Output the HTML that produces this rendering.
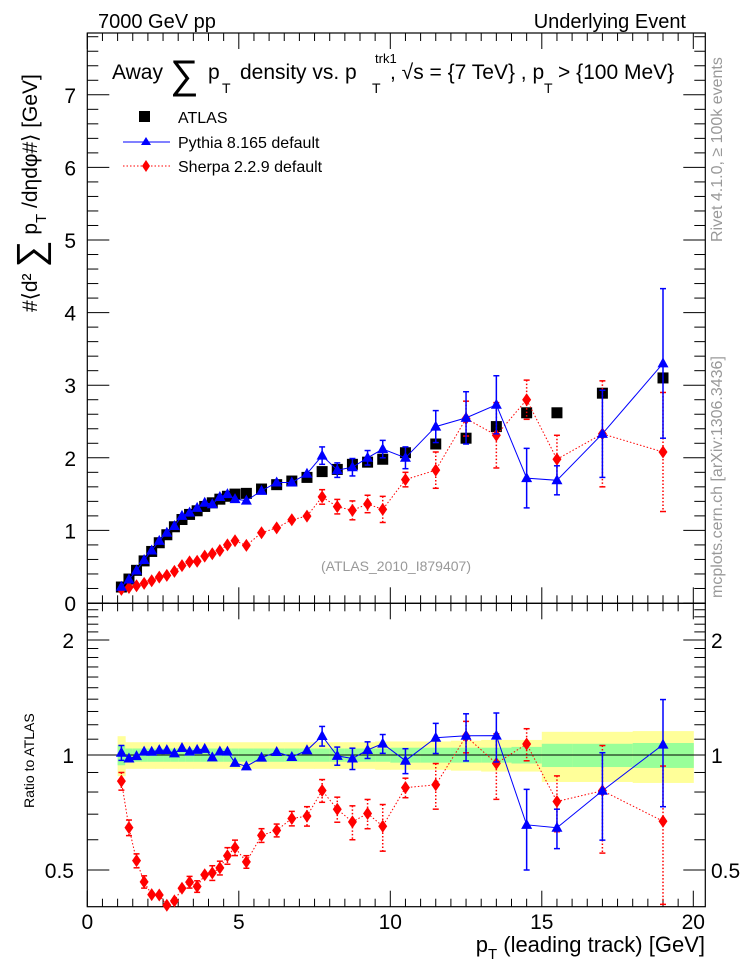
<!DOCTYPE html>
<html><head><meta charset="utf-8"><style>
html,body{margin:0;padding:0;background:#fff;}
svg{display:block;font-family:"Liberation Sans",sans-serif;}
</style></head><body>
<svg id="chart" width="746" height="972" viewBox="0 0 746 972" xmlns="http://www.w3.org/2000/svg">
<rect x="0" y="0" width="746" height="972" fill="#fff"/>
<g id="bands"></g>
<g id="axes"></g>
<g id="series"></g>
<text x="98" y="28" font-size="20">7000 GeV pp</text>
<text x="686" y="28" font-size="20" text-anchor="end">Underlying Event</text>
<g font-size="21">
<text x="112" y="79">Away</text>
<text x="170" y="88" font-size="40">∑</text>
<text x="208" y="79">p</text><text x="222" y="93" font-size="14">T</text>
<text x="240" y="79">density vs. p</text><text x="372" y="93" font-size="14">T</text><text x="375" y="63" font-size="13">trk1</text>
<text x="390" y="79">, √s = {7 TeV} , p</text><text x="544" y="93" font-size="14">T</text><text x="558" y="79">&gt; {100 MeV}</text>
</g>
<g font-size="16">
<rect x="139" y="111" width="11" height="11" fill="#000"/>
<text x="178" y="123">ATLAS</text>
<line x1="123" y1="142" x2="170" y2="142" stroke="#00f" stroke-width="1"/>
<polygon points="146,137 141,145 151,145" fill="#00f"/>
<text x="178" y="148">Pythia 8.165 default</text>
<line x1="123" y1="166" x2="170" y2="166" stroke="#f00" stroke-width="1" stroke-dasharray="1.5,2"/>
<polygon points="146,160 150,166 146,172 142,166" fill="#f00"/>
<text x="178" y="172">Sherpa 2.2.9 default</text>
</g>
<text x="396" y="571" font-size="14" fill="#999" text-anchor="middle">(ATLAS_2010_I879407)</text>
<text transform="translate(37,312) rotate(-90)" font-size="21">#⟨d² <tspan font-size="38" dy="6">∑</tspan><tspan dy="-6"> p</tspan><tspan font-size="15" dy="9">T</tspan><tspan dy="-9"> /dηdφ#⟩ [GeV]</tspan></text>
<text transform="translate(34,808) rotate(-90)" font-size="14">Ratio to ATLAS</text>
<text x="705" y="952" font-size="22" text-anchor="end">p<tspan font-size="15" dy="7">T</tspan><tspan dy="-7"> (leading track) [GeV]</tspan></text>
<text transform="translate(722,242) rotate(-90)" font-size="16" fill="#999">Rivet 4.1.0, ≥ 100k events</text>
<text transform="translate(722,598) rotate(-90)" font-size="16" fill="#999">mcplots.cern.ch [arXiv:1306.3436]</text>
</svg>
<script>
const xs = [1.125,1.375,1.625,1.875,2.125,2.375,2.625,2.875,3.125,3.375,3.625,3.875,4.125,4.375,4.625,4.875,5.25,5.75,6.25,6.75,7.25,7.75,8.25,8.75,9.25,9.75,10.5,11.5,12.5,13.5,14.5,15.5,17,19];
const binLo = [1,1.25,1.5,1.75,2,2.25,2.5,2.75,3,3.25,3.5,3.75,4,4.25,4.5,4.75,5,5.5,6,6.5,7,7.5,8,8.5,9,9.5,10,11,12,13,14,15,16,18];
const binHi = [1.25,1.5,1.75,2,2.25,2.5,2.75,3,3.25,3.5,3.75,4,4.25,4.5,4.75,5,5.5,6,6.5,7,7.5,8,8.5,9,9.5,10,11,12,13,14,15,16,18,20];
const atlas = [0.22,0.33,0.45,0.58,0.71,0.83,0.94,1.05,1.15,1.22,1.27,1.33,1.38,1.43,1.47,1.50,1.51,1.57,1.63,1.68,1.73,1.81,1.84,1.91,1.94,1.98,2.07,2.19,2.27,2.43,2.62,2.62,2.89,3.10];
const bandYellow = [0.12,0.08,0.08,0.08,0.08,0.08,0.08,0.08,0.08,0.08,0.08,0.08,0.08,0.08,0.08,0.08,0.08,0.08,0.08,0.08,0.08,0.08,0.08,0.08,0.08,0.085,0.085,0.085,0.09,0.095,0.095,0.15,0.15,0.155];
const bandGreen = [0.06,0.04,0.04,0.04,0.04,0.04,0.04,0.04,0.04,0.04,0.04,0.04,0.04,0.04,0.04,0.04,0.04,0.04,0.04,0.04,0.04,0.04,0.04,0.04,0.04,0.04,0.045,0.045,0.045,0.045,0.05,0.07,0.07,0.075];
const pythia = [0.223,0.323,0.447,0.592,0.724,0.855,0.968,1.06,1.20,1.245,1.31,1.38,1.36,1.46,1.50,1.43,1.41,1.545,1.66,1.66,1.78,2.03,1.83,1.87,2.00,2.12,2.00,2.43,2.55,2.73,1.72,1.69,2.33,3.30];
const pythiaErr = [0.01,0.01,0.01,0.01,0.01,0.01,0.01,0.01,0.01,0.01,0.01,0.01,0.01,0.02,0.02,0.02,0.02,0.03,0.03,0.04,0.05,0.12,0.1,0.12,0.1,0.12,0.15,0.22,0.36,0.4,0.41,0.2,0.6,1.03];
const sherpa = [0.188,0.213,0.238,0.270,0.306,0.357,0.380,0.436,0.515,0.567,0.575,0.646,0.678,0.724,0.801,0.858,0.793,0.967,1.035,1.146,1.197,1.461,1.327,1.276,1.364,1.289,1.70,1.83,2.54,2.31,2.80,1.98,2.33,2.08];
const sherpaErr = [0.01,0.01,0.01,0.01,0.01,0.01,0.01,0.01,0.01,0.02,0.02,0.02,0.03,0.03,0.04,0.04,0.03,0.04,0.04,0.05,0.07,0.1,0.1,0.13,0.12,0.18,0.1,0.25,0.24,0.45,0.27,0.33,0.73,0.82];
const yTicks = ["0","1","2","3","4","5","6","7"];
const xTickLabels = ["0","5","10","15","20"];
const ratioTickLabels = ["0.5","1","2"];

const NS="http://www.w3.org/2000/svg";
const L=87.3,R=705.3,T=33,MB=603.3,RB=906.7;
const X=v=>87.3+v*30.3;
const Y=v=>603-v*72.6;
const RY=r=>755-Math.log2(r)*115;
function mk(tag,parent,attrs){const e=document.createElementNS(NS,tag);for(const k in attrs)e.setAttribute(k,attrs[k]);parent.appendChild(e);return e;}
const gA=document.getElementById('axes'),gS=document.getElementById('series'),gB=document.getElementById('bands');

for(let i=0;i<binLo.length;i++){
  const y1=mk('rect',gB,{x:X(binLo[i]),y:RY(1+bandYellow[i]),width:X(binHi[i])-X(binLo[i])+0.5,height:RY(1-bandYellow[i])-RY(1+bandYellow[i]),fill:'#ffff99'});
  
  
  const g1=mk('rect',gB,{x:X(binLo[i]),y:RY(1+bandGreen[i]),width:X(binHi[i])-X(binLo[i])+0.5,height:RY(1-bandGreen[i])-RY(1+bandGreen[i]),fill:'#99ff99'});
  
  
}
const one=mk('line',gB,{x1:L,x2:R,y1:RY(1),y2:RY(1),stroke:'#000','stroke-width':1});



for(const [y0,y1,nm] of [[T,MB,'main-frame'],[MB,RB,'ratio-frame']]){
  const f=mk('rect',gA,{x:L,y:y0,width:R-L,height:y1-y0,fill:'none',stroke:'#000','stroke-width':1.2});
  
  
}
for(let v=0;v<=20.3;v+=0.5){
  const maj=Math.abs(v%5)<1e-6, len=maj?16:8, x=X(v);
  for(const [yb,yt] of [[MB,T],[RB,MB]]){
    mk('line',gA,{x1:x,x2:x,y1:yb,y2:yb-len,stroke:'#000'});
    mk('line',gA,{x1:x,x2:x,y1:yt,y2:yt+len,stroke:'#000'});
  }
}
xTickLabels.forEach(s=>{const t=mk('text',gA,{x:X(+s),y:929,'font-size':21,'text-anchor':'middle'});t.textContent=s;

});
for(let k=0;k<=39;k++){const v=k*0.2;const y=Y(v);if(y<T)break;const maj=k%5==0,len=maj?22:11;
 mk('line',gA,{x1:L,x2:L+len,y1:y,y2:y,stroke:'#000'});mk('line',gA,{x1:R,x2:R-len,y1:y,y2:y,stroke:'#000'});}
yTicks.forEach(s=>{const t=mk('text',gA,{x:76,y:Y(+s)+8,'font-size':21,'text-anchor':'end'});t.textContent=s;

});
const rmin=[0.4,0.6,0.7,0.8,0.9,1.1,1.2,1.3,1.4,1.5,1.6,1.7,1.8,1.9,2.1,2.2,2.3,2.4,2.5];
rmin.forEach(r=>{const y=RY(r);if(y<MB||y>RB)return;mk('line',gA,{x1:L,x2:L+11,y1:y,y2:y,stroke:'#000'});mk('line',gA,{x1:R,x2:R-11,y1:y,y2:y,stroke:'#000'});});
ratioTickLabels.forEach(s=>{const y=RY(+s);mk('line',gA,{x1:L,x2:L+22,y1:y,y2:y,stroke:'#000'});mk('line',gA,{x1:R,x2:R-22,y1:y,y2:y,stroke:'#000'});
 const t=mk('text',gA,{x:74,y:y+8,'font-size':21,'text-anchor':'end'});t.textContent=s;
 
 
 const t2=mk('text',gA,{x:711,y:y+8,'font-size':21});t2.textContent=s;
 
 });

function clipY(y,top,bot){return Math.max(top,Math.min(bot,y));}
function drawSeries(vals,errs,color,dash,shape,name){
  const gm=mk('g',gS,{}),gr=mk('g',gS,{});
  
  
  
  
  const pm=[],pr=[];
  for(let i=0;i<xs.length;i++){
    const x=X(xs[i]);
    const ym=Y(vals[i]),r=vals[i]/atlas[i],yr=RY(r);
    pm.push(x+','+ym);pr.push(x+','+yr);
    const eh=Y(vals[i]-errs[i]),el=Y(vals[i]+errs[i]);
    const rh=RY(Math.max(0.05,(vals[i]-errs[i])/atlas[i])),rl=RY((vals[i]+errs[i])/atlas[i]);
    for(const [g,a,b] of [[gm,el,eh],[gr,clipY(rl,MB,RB),clipY(rh,MB,RB)]]){
      if(b-a>11){mk('line',g,{x1:x,x2:x,y1:a,y2:b,stroke:color,'stroke-width':1.5,'stroke-dasharray':dash});
      mk('line',g,{x1:x-3,x2:x+3,y1:a,y2:a,stroke:color,'stroke-width':1.5});mk('line',g,{x1:x-3,x2:x+3,y1:b,y2:b,stroke:color,'stroke-width':1.5});}
    }
  }
  mk('polyline',gm,{points:pm.join(' '),fill:'none',stroke:color,'stroke-width':1,'stroke-dasharray':dash});
  mk('polyline',gr,{points:pr.join(' '),fill:'none',stroke:color,'stroke-width':1,'stroke-dasharray':dash});
  for(let i=0;i<xs.length;i++){
    const x=X(xs[i]);
    for(const [g,y] of [[gm,Y(vals[i])],[gr,RY(vals[i]/atlas[i])]]){
      if(y<MB-1 && g===gr) continue;
      let m;
      if(shape==='tri') m=mk('polygon',g,{points:`${x},${y-6} ${x-5.5},${y+4} ${x+5.5},${y+4}`,fill:color});
      else m=mk('polygon',g,{points:`${x},${y-6.5} ${x+4.5},${y} ${x},${y+6.5} ${x-4.5},${y}`,fill:color});
      
      
    }
  }
}
const ga=mk('g',gS,{});


for(let i=0;i<xs.length;i++){
  const s=mk('rect',ga,{x:X(xs[i])-5.5,y:Y(atlas[i])-5.5,width:11,height:11,fill:'#000'});
  
  
}
drawSeries(sherpa,sherpaErr,'#f00','1.5,2','dia','sherpa');
drawSeries(pythia,pythiaErr,'#00f','none','tri','pythia');
</script>
</body></html>
